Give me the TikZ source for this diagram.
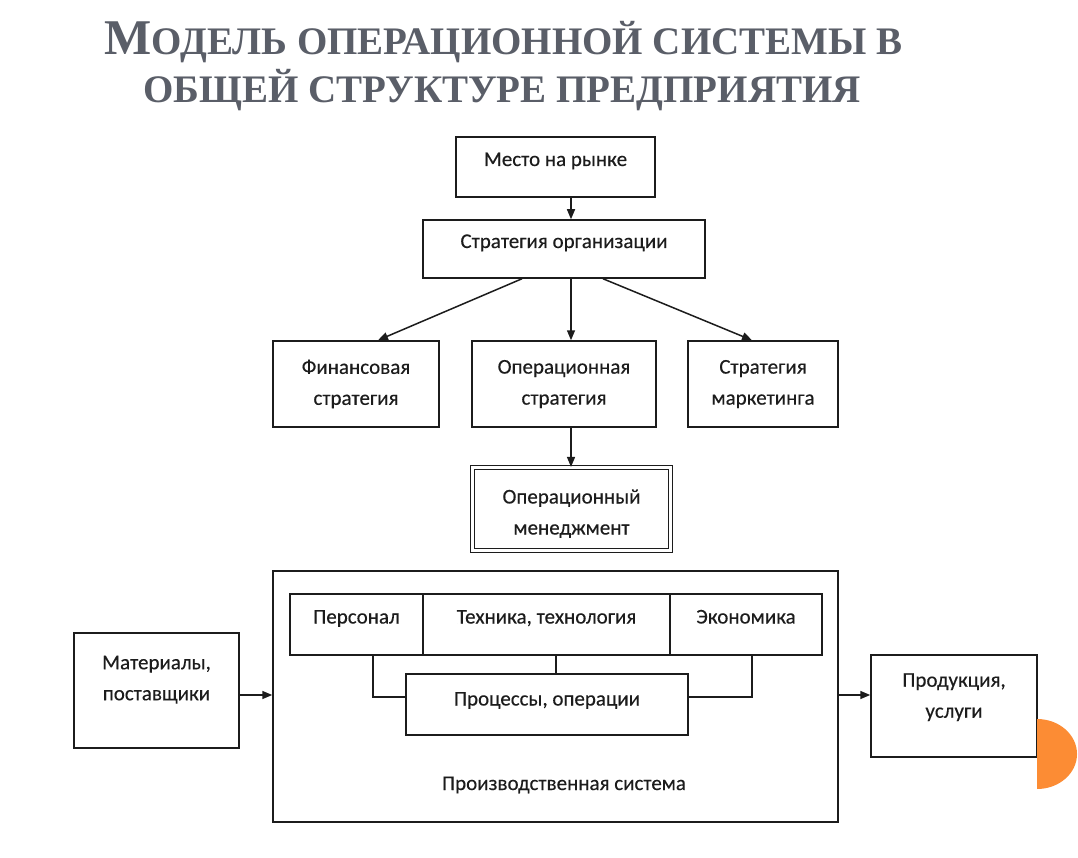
\documentclass[tikz,border=0pt]{standalone}
\usepackage{fontspec}
\setmainfont{Carlito}
\newfontfamily\boxfont{Carlito}[FakeBold=0.3]
\newfontfamily\titlefont{Liberation Serif}
\usetikzlibrary{arrows.meta,calc}
\definecolor{titlegray}{RGB}{90,94,104}
\definecolor{ink}{RGB}{28,28,28}
\definecolor{accent}{RGB}{252,140,52}
\begin{document}
\begin{tikzpicture}[x=1pt,y=-1pt,
  box/.style={draw=ink, line width=1.5pt, fill=white, inner sep=0pt, align=center,
    font=\boxfont\fontsize{21}{31}\selectfont, text=ink},
  one/.style={text height=15pt, text depth=17pt},
  arr/.style={draw=ink, line width=1.5pt, -{Triangle[length=10pt,width=8pt]}},
  con/.style={draw=ink, line width=1.5pt},
  ttl/.style={font=\titlefont\bfseries, text=titlegray, anchor=base, inner sep=0pt}]
\useasboundingbox (0,0) rectangle (1078,858);
\fill[white] (0,0) rectangle (1078,858);
% title
\node[ttl] (t1) at (503.5,55) {\fontsize{50}{50}\selectfont М\fontsize{39}{39}\selectfont ОДЕЛЬ ОПЕРАЦИОННОЙ СИСТЕМЫ В};
\node[ttl] (t2) at (502,103) {\fontsize{39}{39}\selectfont ОБЩЕЙ СТРУКТУРЕ ПРЕДПРИЯТИЯ};
% helper coordinates
\coordinate (ax) at (571,0);
\coordinate (ay) at (0,695);
% boxes
\node[box, one, minimum width=199pt, minimum height=60pt] (mesto) at (555.5,167) {Место на рынке};
\node[box, one, minimum width=282pt, minimum height=58pt] (strat) at (564,249) {Стратегия организации};
\node[box, minimum width=166pt, minimum height=86pt] (fin) at (356,384) {Финансовая\\стратегия};
\node[box, minimum width=184pt, minimum height=86pt] (oper) at (564,384) {Операционная\\стратегия};
\node[box, minimum width=150pt, minimum height=86pt] (mark) at (763,384) {Стратегия\\маркетинга};
\node[box, double, double distance=3pt, line width=1.2pt, minimum width=198pt, minimum height=83pt,
      text height=56pt, text depth=5pt] (men) at (571.5,509) {Операционный\\менеджмент};
\node[box, minimum width=565pt, minimum height=251pt] (sys) at (555.5,696.5) {};
\node[font=\boxfont\fontsize{21}{31}\selectfont, text=ink, inner sep=0pt] (syslbl) at (564,785) {Производственная система};
\node[box, one, minimum width=133pt, minimum height=61pt] (pers) at (356.5,624.5) {Персонал};
\node[box, one, minimum width=247pt, minimum height=61pt] (tech) at (546.5,624.5) {Техника, технология};
\node[box, one, minimum width=152pt, minimum height=61pt] (econ) at (746,624.5) {Экономика};
\node[box, minimum width=282pt, minimum height=61pt, text height=15pt, text depth=13pt] (proc) at (547,704.5) {Процессы, операции};
\node[box, minimum width=165pt, minimum height=115pt, text depth=25pt] (mat) at (156.5,690.5) {Материалы,\\поставщики};
\node[box, minimum width=166pt, minimum height=102pt, text depth=21pt] (prod) at (954,706) {Продукция,\\услуги};
% accent
\fill[accent] (1037,719) arc[start angle=90, end angle=-90, x radius=40pt, y radius=35pt] -- cycle;
% arrows
\draw[arr] (mesto.south -| ax) -- (strat.north -| ax);
\draw[arr] ($(strat.south)+(-42,0)$) -- ($(fin.north)+(22,0)$);
\draw[arr] (strat.south -| ax) -- (oper.north -| ax);
\draw[arr] ($(strat.south)+(39,0)$) -- ($(mark.north)+(-11,0)$);
\draw[arr] (oper.south -| ax) -- (men.north -| ax);
\draw[arr] (mat.east |- ay) -- (sys.west |- ay);
\draw[arr] (sys.east |- ay) -- (prod.west |- ay);
% inner connectors
\coordinate (cp) at (373,697);
\coordinate (ce) at (752,697);
\coordinate (ct) at (556,0);
\draw[con] (pers.south -| cp) |- (proc.west |- cp);
\draw[con] (tech.south -| ct) -- (proc.north -| ct);
\draw[con] (econ.south -| ce) |- (proc.east |- ce);
\end{tikzpicture}
\end{document}
